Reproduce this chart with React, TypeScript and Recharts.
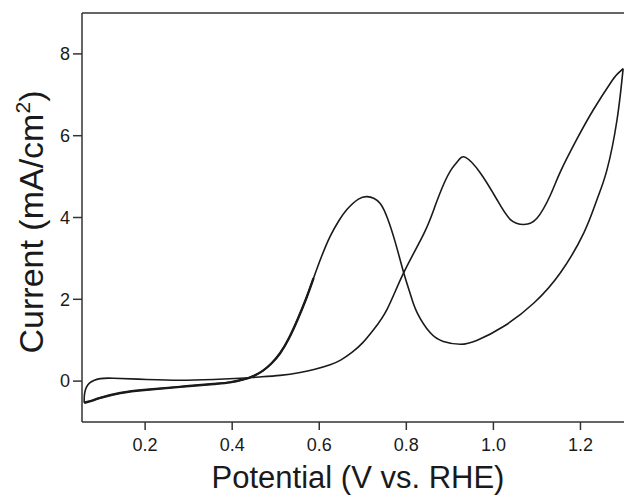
import { Label, Line, LineChart, ReferenceLine, XAxis, YAxis } from 'recharts';

// forward (positive-going) scan, left vertex -> right vertex
const forwardPotential = [
  0.06, 0.08, 0.097, 0.143, 0.204, 0.28, 0.357, 0.395, 0.426, 0.45, 0.47,
  0.49, 0.51, 0.53, 0.55, 0.57, 0.587, 0.605, 0.625, 0.645, 0.664, 0.69,
  0.71, 0.725, 0.74, 0.756, 0.775, 0.794, 0.81, 0.825, 0.855, 0.885, 0.924,
  0.963, 1.024, 1.093, 1.154, 1.208, 1.238, 1.261, 1.284, 1.298,
];
const forwardCurrent = [
  -0.53, -0.47, -0.41, -0.29, -0.21, -0.14, -0.07, -0.03, 0.04, 0.13, 0.25,
  0.43, 0.68, 1.04, 1.5, 2.02, 2.52, 3.04, 3.54, 3.92, 4.2, 4.45, 4.51, 4.47,
  4.34, 4.0, 3.38, 2.65, 2.1, 1.67, 1.18, 0.97, 0.9, 1.0, 1.34, 1.91, 2.65,
  3.63, 4.44, 5.17, 6.39, 7.64,
];

// reverse scan, right vertex -> left vertex
const reversePotential = [
  1.298, 1.284, 1.269, 1.23, 1.192, 1.154, 1.131, 1.1, 1.07, 1.039, 1.008,
  0.97, 0.936, 0.92, 0.905, 0.886, 0.865, 0.84, 0.794, 0.756, 0.725, 0.7,
  0.675, 0.65, 0.625, 0.59, 0.556, 0.51, 0.46, 0.418, 0.357, 0.28, 0.204,
  0.127, 0.097, 0.072, 0.061, 0.06,
];
const reverseCurrent = [
  7.64, 7.5, 7.29, 6.64, 5.92, 5.12, 4.55, 3.98, 3.83, 3.95, 4.44, 5.09,
  5.47, 5.4, 5.2, 4.82, 4.25, 3.6, 2.65, 1.76, 1.26, 0.94, 0.7, 0.52, 0.4,
  0.29, 0.21, 0.14, 0.1, 0.07, 0.04, 0.02, 0.04, 0.07, 0.06, -0.05, -0.3,
  -0.53,
];

// the last partial sweep retraces the forward branch up to here
const overlapEnd = 0.587;

const xTicks = [0.2, 0.4, 0.6, 0.8, 1.0, 1.2];
const yTicks = [0, 2, 4, 6, 8];

const toPoints = (xs: number[], ys: number[]) =>
  xs.map((potential, i) => ({ potential, current: ys[i] }));

const forward = toPoints(forwardPotential, forwardCurrent);
const reverse = toPoints(reversePotential, reverseCurrent);
const overlap = forward.filter((p) => p.potential <= overlapEnd);

const FONT = 'Arial, "Liberation Sans", Helvetica, sans-serif';
const AXIS = '#333';
const INK = '#1a1a1a';

function XTitle(props: any) {
  const vb = props.viewBox;
  return (
    <text
      x={vb.x + vb.width / 2 + 5}
      y={vb.y + 66}
      textAnchor="middle"
      fontFamily={FONT}
      fontSize={31}
      fill={INK}
    >
      Potential (V vs. RHE)
    </text>
  );
}

function YTitle() {
  const x = 43;
  const y = 222;
  return (
    <text
      x={x}
      y={y}
      transform={`rotate(-90, ${x}, ${y})`}
      textAnchor="middle"
      fontFamily={FONT}
      fontSize={34}
      fill={INK}
    >
      Current (mA/cm
      <tspan dy={-13} fontSize={21}>
        2
      </tspan>
      <tspan dy={13}>)</tspan>
    </text>
  );
}

export default function App() {
  return (
    <div style={{ position: 'absolute', left: 0, top: 0, background: '#fff' }}>
      <LineChart
        width={624}
        height={499}
        margin={{ top: 13, right: 0, bottom: 0, left: 0 }}
      >
        <XAxis
          type="number"
          dataKey="potential"
          domain={[0.055, 1.3]}
          ticks={xTicks}
          allowDataOverflow
          tickFormatter={(v: number) => v.toFixed(1)}
          height={77}
          tickSize={8}
          tickMargin={8}
          stroke={AXIS}
          strokeWidth={1.5}
          tick={{ fill: INK, fontSize: 18, fontFamily: FONT }}
        >
          <Label content={XTitle} />
        </XAxis>
        <YAxis
          type="number"
          domain={[-1, 9]}
          ticks={yTicks}
          allowDataOverflow
          width={82}
          tickSize={9}
          tickMargin={3}
          stroke={AXIS}
          strokeWidth={1.5}
          tick={{ fill: INK, fontSize: 18, fontFamily: FONT }}
        >
          <Label content={YTitle} />
        </YAxis>
        <ReferenceLine y={9} stroke={AXIS} strokeWidth={1.5} />
        <Line
          data={forward}
          dataKey="current"
          type="natural"
          stroke={INK}
          strokeWidth={1.6}
          dot={false}
          isAnimationActive={false}
        />
        <Line
          data={reverse}
          dataKey="current"
          type="natural"
          stroke={INK}
          strokeWidth={1.6}
          dot={false}
          isAnimationActive={false}
        />
        <Line
          data={overlap}
          dataKey="current"
          type="natural"
          stroke={INK}
          strokeWidth={2.4}
          dot={false}
          isAnimationActive={false}
        />
      </LineChart>
    </div>
  );
}
